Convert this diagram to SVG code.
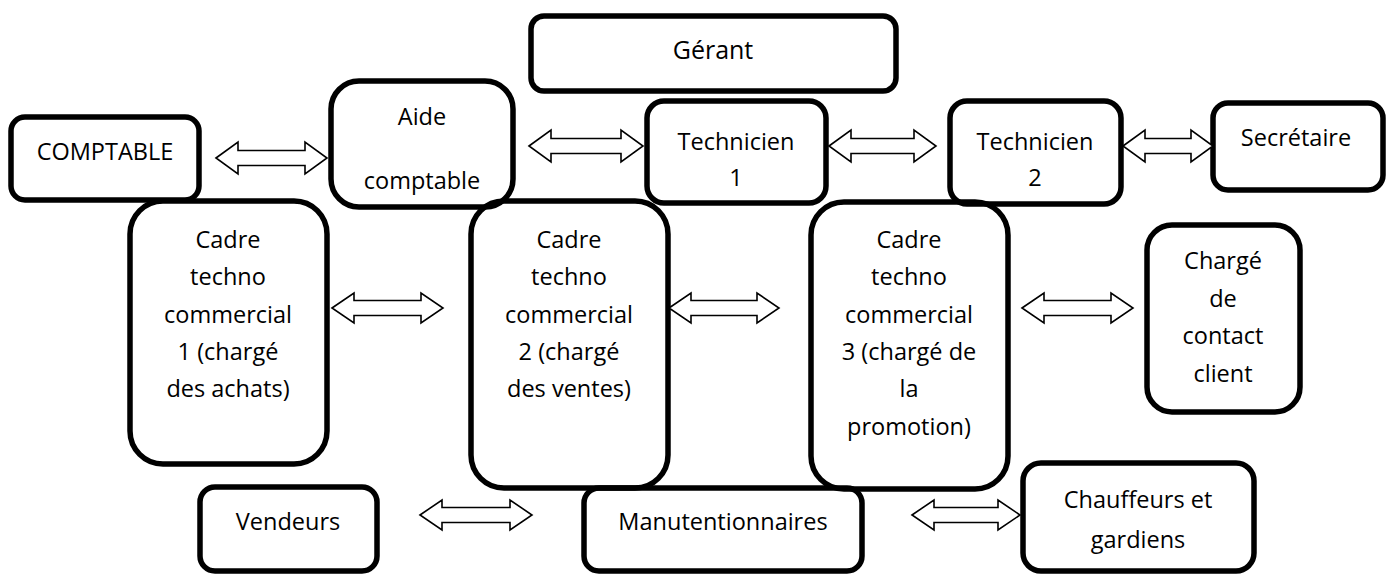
<svg xmlns="http://www.w3.org/2000/svg" width="1392" height="574" viewBox="0 0 1392 574">
<style>
.box{fill:none;stroke:#000;stroke-width:5.5}
.t{font-family:"Open Sans","Noto Sans","Liberation Sans",sans-serif;font-size:23.5px;fill:#000;text-anchor:middle}
.arr{fill:#fff;stroke:#000;stroke-width:1.6;stroke-linejoin:miter}
</style>
<rect width="1392" height="574" fill="#fff"/>
<g id="gerant"><rect class="box" x="531" y="16" width="365" height="75" rx="13"/><text class="t" x="713" y="59" style="font-size:25px">Gérant</text></g>
<g id="comptable"><rect class="box" x="11" y="117" width="188" height="83" rx="14"/><text class="t" x="105" y="160">COMPTABLE</text></g>
<g id="aide-comptable"><rect class="box" x="331" y="81" width="182" height="126" rx="28"/><text class="t" x="422" y="125">Aide</text><text class="t" x="422" y="189">comptable</text></g>
<g id="technicien1"><rect class="box" x="647" y="101" width="179" height="102" rx="17"/><text class="t" x="736" y="150">Technicien</text><text class="t" x="736" y="186">1</text></g>
<g id="technicien2"><rect class="box" x="950" y="101" width="171" height="103" rx="17"/><text class="t" x="1035" y="150">Technicien</text><text class="t" x="1035" y="186">2</text></g>
<g id="secretaire"><rect class="box" x="1213" y="103" width="170" height="87" rx="15"/><text class="t" x="1296" y="146">Secrétaire</text></g>
<g id="cadre1"><rect class="box" x="130" y="201" width="197" height="263" rx="33"/><text class="t" x="228" y="248">Cadre</text><text class="t" x="228" y="285">techno</text><text class="t" x="228" y="323">commercial</text><text class="t" x="228" y="360">1 (chargé</text><text class="t" x="228" y="397">des achats)</text></g>
<g id="cadre2"><rect class="box" x="471" y="201" width="197" height="287" rx="33"/><text class="t" x="569" y="248">Cadre</text><text class="t" x="569" y="285">techno</text><text class="t" x="569" y="323">commercial</text><text class="t" x="569" y="360">2 (chargé</text><text class="t" x="569" y="397">des ventes)</text></g>
<g id="cadre3"><rect class="box" x="811" y="202" width="197" height="287" rx="33"/><text class="t" x="909" y="248">Cadre</text><text class="t" x="909" y="285">techno</text><text class="t" x="909" y="323">commercial</text><text class="t" x="909" y="360">3 (chargé de</text><text class="t" x="909" y="397">la</text><text class="t" x="909" y="435">promotion)</text></g>
<g id="charge-contact"><rect class="box" x="1147" y="225" width="153" height="187" rx="25"/><text class="t" x="1223" y="269">Chargé</text><text class="t" x="1223" y="307">de</text><text class="t" x="1223" y="344">contact</text><text class="t" x="1223" y="382">client</text></g>
<g id="vendeurs"><rect class="box" x="200" y="487" width="177" height="84" rx="15"/><text class="t" x="288" y="530">Vendeurs</text></g>
<g id="manutentionnaires"><rect class="box" x="584" y="488" width="278" height="83" rx="15"/><text class="t" x="723" y="530">Manutentionnaires</text></g>
<g id="chauffeurs"><rect class="box" x="1023" y="463" width="231" height="108" rx="18"/><text class="t" x="1138" y="508">Chauffeurs et</text><text class="t" x="1138" y="548">gardiens</text></g>
<g id="connectors">
<path class="arr" d="M216,158 L238,142 L238,150.5 L305,150.5 L305,142 L327,158 L305,174 L305,165.5 L238,165.5 L238,174 Z"/>
<path class="arr" d="M529,146 L551,130 L551,138.5 L621,138.5 L621,130 L643,146 L621,162 L621,153.5 L551,153.5 L551,162 Z"/>
<path class="arr" d="M829,146 L851,130 L851,138.5 L914,138.5 L914,130 L936,146 L914,162 L914,153.5 L851,153.5 L851,162 Z"/>
<path class="arr" d="M1123,146 L1145,130 L1145,138.5 L1191,138.5 L1191,130 L1213,146 L1191,162 L1191,153.5 L1145,153.5 L1145,162 Z"/>
<path class="arr" d="M332,308 L354,293 L354,300.5 L421,300.5 L421,293 L443,308 L421,323 L421,315.5 L354,315.5 L354,323 Z"/>
<path class="arr" d="M669,308 L691,293 L691,300.5 L757,300.5 L757,293 L779,308 L757,323 L757,315.5 L691,315.5 L691,323 Z"/>
<path class="arr" d="M1022,308 L1044,293 L1044,300.5 L1111,300.5 L1111,293 L1133,308 L1111,323 L1111,315.5 L1044,315.5 L1044,323 Z"/>
<path class="arr" d="M420,515 L442,500 L442,507.5 L510,507.5 L510,500 L532,515 L510,530 L510,522.5 L442,522.5 L442,530 Z"/>
<path class="arr" d="M912,515 L934,500 L934,507.5 L998,507.5 L998,500 L1020,515 L998,530 L998,522.5 L934,522.5 L934,530 Z"/>
</g>
</svg>
